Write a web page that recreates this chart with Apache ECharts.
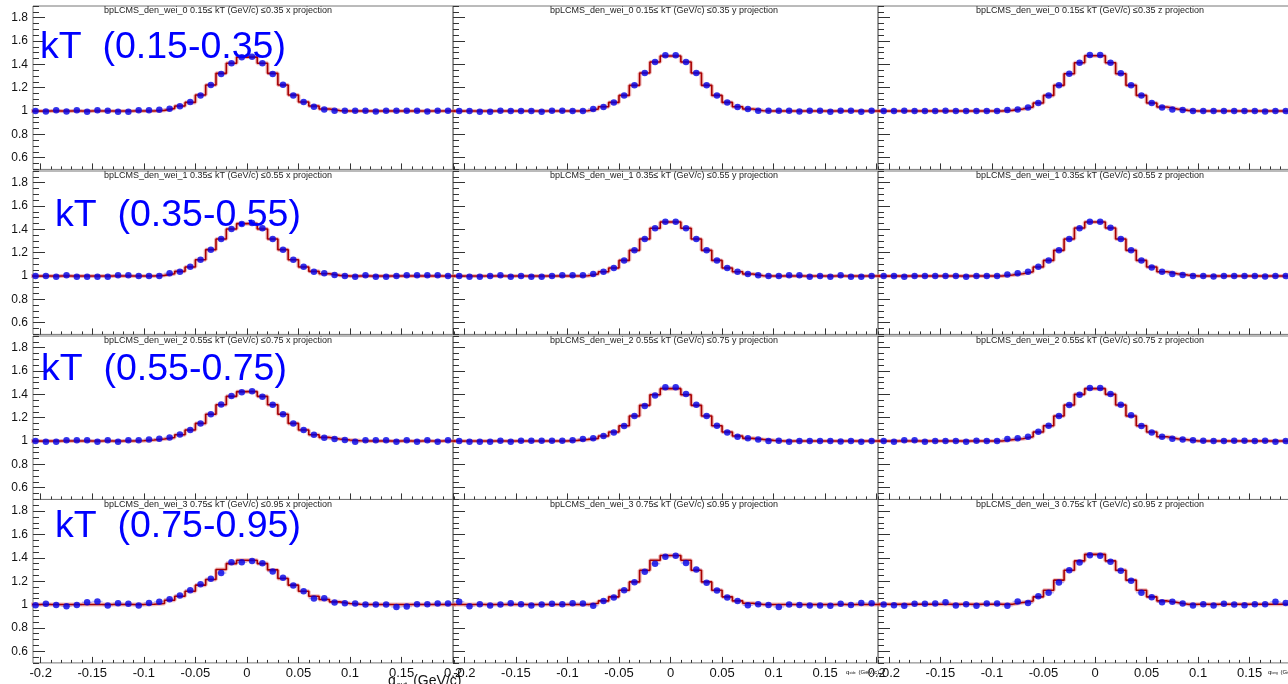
<!DOCTYPE html>
<html>
<head>
<meta charset="utf-8">
<script src="https://cdn.jsdelivr.net/npm/echarts@6/dist/echarts.min.js"></script>
<style>
html, body { margin: 0; padding: 0; background: #fff; }
#main { width: 1288px; height: 684px; }
</style>
</head>
<body>
<div id="main"></div>
<script>
// bin centres of q (GeV/c), bin width 0.01
var qBins = [-0.205,-0.195,-0.185,-0.175,-0.165,-0.155,-0.145,-0.135,-0.125,-0.115,-0.105,-0.095,-0.085,-0.075,-0.065,-0.055,-0.045,-0.035,-0.025,-0.015,-0.005,
             0.005,0.015,0.025,0.035,0.045,0.055,0.065,0.075,0.085,0.095,0.105,0.115,0.125,0.135,0.145,0.155,0.165,0.175,0.185,0.195,0.205];
var kTEdges = ['0.15', '0.35', '0.55', '0.75', '0.95'];
var projections = ['x', 'y', 'z'];
var xTicks = [-0.2, -0.15, -0.1, -0.05, 0, 0.05, 0.1, 0.15, 0.2];
var yTicks = [0.6, 0.8, 1, 1.2, 1.4, 1.6, 1.8];

// kT 0.15-0.35
var data_kt0_x = [1.000,0.997,1.006,0.997,1.006,0.994,1.006,1.003,0.994,0.994,1.006,1.006,
  1.011,1.020,1.040,1.077,1.134,1.223,1.317,1.409,1.460,1.466,1.409,1.317,1.226,1.134,1.077,1.037,1.014,1.003,
  1.003,1.003,1.003,0.997,1.003,1.003,1.003,1.003,0.997,1.003,1.003,1.003];
var fit_kt0_x = [1,1,1,1,1,1,1,1,1,1,1,1,
  1.006,1.023,1.043,1.074,1.137,1.223,1.323,1.409,1.462,1.462,1.409,1.323,1.223,1.137,1.077,1.043,1.017,1.004,
  1,1,1,1,1,1,1,1,1,1,1,1];
var data_kt0_y = [1.000,1.000,0.994,0.994,1.003,1.000,1.000,1.000,0.994,1.003,1.003,1.000,1.000,
  1.017,1.034,1.074,1.134,1.220,1.326,1.420,1.477,1.477,1.420,1.326,1.220,1.134,1.074,1.034,1.017,1.003,
  1.003,1.003,1.003,0.997,1.003,1.003,0.994,1.003,1.003,0.994,1.003,1.003];
var fit_kt0_y = [1,1,1,1,1,1,1,1,1,1,1,1,
  1.003,1.017,1.037,1.074,1.134,1.220,1.326,1.420,1.471,1.471,1.420,1.326,1.220,1.134,1.074,1.037,1.017,1.003,
  1,1,1,1,1,1,1,1,1,1,1,1];
var data_kt0_z = [1.000,1.000,1.003,1.000,1.000,1.000,1.003,1.000,1.000,1.000,1.000,1.000,
  1.009,1.014,1.031,1.069,1.134,1.220,1.320,1.414,1.480,1.480,1.414,1.323,1.220,1.134,1.069,1.031,1.014,1.009,
  1.000,1.000,1.000,1.000,1.000,1.000,1.000,0.997,1.000,1.000,1.000,1.000];
var fit_kt0_z = [1,1,1,1,1,1,1,1,1,1,1,1,
  1.006,1.017,1.034,1.069,1.134,1.220,1.320,1.414,1.474,1.474,1.414,1.320,1.220,1.134,1.069,1.034,1.017,1.006,
  1,1,1,1,1,1,1,1,1,1,1,1];

// kT 0.35-0.55
var data_kt1_x = [1.000,1.000,0.994,1.006,0.994,0.994,0.994,0.994,1.006,1.006,1.000,1.000,1.000,
  1.023,1.037,1.080,1.140,1.226,1.317,1.403,1.446,1.454,1.409,1.317,1.226,1.140,1.080,1.037,1.023,1.009,
  1.000,0.994,1.006,0.994,0.994,1.000,1.006,1.006,1.006,1.006,1.000,1.000];
var fit_kt1_x = [1,1,1,1,1,1,1,1,1,1,1,1,1.006,
  1.020,1.040,1.077,1.140,1.226,1.317,1.403,1.449,1.449,1.403,1.317,1.226,1.140,1.077,1.040,1.020,1.006,
  1,1,1,1,1,1,1,1,1,1,1,1];
var data_kt1_y = [1.000,0.994,0.994,1.000,1.006,0.994,1.000,0.994,0.994,1.000,1.006,1.006,1.006,
  1.017,1.037,1.069,1.134,1.220,1.317,1.409,1.466,1.466,1.409,1.317,1.220,1.134,1.069,1.037,1.017,1.006,
  1.000,1.000,1.006,1.006,0.994,1.000,0.994,1.006,0.994,0.994,1.000,1.000];
var fit_kt1_y = [1,1,1,1,1,1,1,1,1,1,1,1,1.003,
  1.017,1.037,1.069,1.134,1.220,1.317,1.409,1.463,1.463,1.409,1.317,1.220,1.134,1.069,1.037,1.017,1.003,
  1,1,1,1,1,1,1,1,1,1,1,1];
var data_kt1_z = [1.000,1.000,0.994,1.000,1.000,1.000,1.000,1.000,0.994,1.000,1.000,1.000,
  1.014,1.023,1.037,1.080,1.134,1.220,1.317,1.409,1.466,1.466,1.414,1.317,1.220,1.134,1.074,1.037,1.017,1.009,
  1.000,1.000,0.997,1.000,1.000,1.000,1.000,0.997,1.000,1.000,1.000,1.000];
var fit_kt1_z = [1,1,1,1,1,1,1,1,1,1,1,1,
  1.009,1.020,1.037,1.077,1.134,1.220,1.317,1.411,1.463,1.463,1.411,1.317,1.220,1.134,1.077,1.037,1.020,1.009,
  1,1,1,1,1,1,1,1,1,1,1,1];

// kT 0.55-0.75
var data_kt2_x = [1.000,0.994,0.994,1.006,1.006,1.006,0.994,1.006,0.994,1.006,1.006,
  1.014,1.020,1.031,1.057,1.094,1.151,1.229,1.314,1.386,1.417,1.426,1.380,1.311,1.229,1.151,1.094,1.054,1.029,1.017,1.009,
  0.994,1.006,1.006,1.006,0.994,1.006,0.994,1.006,0.994,1.006,1.006];
var fit_kt2_x = [1,1,1,1,1,1,1,1,1,1,
  1.003,1.009,1.017,1.031,1.054,1.094,1.151,1.229,1.311,1.383,1.423,1.423,1.383,1.311,1.229,1.151,1.094,1.054,1.031,1.017,1.009,1.003,
  1,1,1,1,1,1,1,1,1,1];
var data_kt2_y = [1.000,0.994,0.994,0.994,1.003,0.994,1.003,1.003,1.003,1.003,1.003,
  1.006,1.017,1.023,1.043,1.074,1.129,1.214,1.300,1.391,1.460,1.460,1.403,1.311,1.214,1.131,1.074,1.037,1.023,1.014,1.000,
  1.003,0.994,1.000,1.000,1.000,1.000,0.997,1.000,0.994,1.000,1.000];
var fit_kt2_y = [1,1,1,1,1,1,1,1,1,1,1,
  1.006,1.014,1.023,1.043,1.077,1.131,1.214,1.306,1.397,1.449,1.449,1.397,1.306,1.214,1.131,1.077,1.043,1.023,1.014,1.006,
  1,1,1,1,1,1,1,1,1,1,1];
var data_kt2_z = [1.000,0.994,1.006,1.006,0.994,1.000,1.000,1.000,0.994,1.003,1.000,1.000,
  1.017,1.023,1.037,1.080,1.131,1.214,1.309,1.397,1.454,1.454,1.403,1.311,1.220,1.129,1.074,1.037,1.020,1.014,
  1.006,1.003,1.000,1.000,1.003,1.003,1.000,1.003,0.994,1.000,0.994,1.000];
var fit_kt2_z = [1,1,1,1,1,1,1,1,1,1,1,1,
  1.011,1.020,1.037,1.077,1.131,1.214,1.309,1.400,1.449,1.449,1.400,1.309,1.214,1.131,1.077,1.037,1.020,1.011,
  1,1,1,1,1,1,1,1,1,1,1,1];

// kT 0.75-0.95
var data_kt3_x = [0.994,1.006,0.997,0.986,0.997,1.020,1.026,0.991,1.011,1.006,0.991,1.014,
  1.023,1.046,1.077,1.123,1.174,1.220,1.271,1.363,1.363,1.374,1.354,1.283,1.229,1.163,1.114,1.051,1.054,1.017,
  1.011,1.009,1.000,1.000,1.000,0.980,0.983,1.003,1.003,1.009,1.009,1.017];
var fit_kt3_x = [1,1,1,1,1,1,1,1,1,1,1,1.003,
  1.009,1.037,1.071,1.114,1.166,1.214,1.300,1.351,1.380,1.380,1.351,1.297,1.223,1.166,1.114,1.071,1.043,1.023,1.009,
  1.003,1,1,1,1,1,1,1,1,1,1];
var data_kt3_y = [1.023,0.986,1.003,0.991,1.000,1.011,1.003,0.991,1.000,1.006,1.003,1.011,1.009,
  0.989,1.031,1.060,1.123,1.191,1.280,1.349,1.409,1.417,1.357,1.300,1.186,1.120,1.060,1.031,0.994,
  1.003,0.997,0.980,1.000,0.997,0.991,0.991,0.989,1.006,0.997,1.014,1.011,1.000];
var fit_kt3_y = [1,1,1,1,1,1,1,1,1,1,1,1,1,
  1.011,1.031,1.066,1.123,1.194,1.294,1.380,1.420,1.420,1.380,1.294,1.194,1.123,1.066,1.031,1.011,
  1,1,1,1,1,1,1,1,1,1,1,1,1];
var data_kt3_z = [1.000,0.994,0.989,1.006,1.006,1.009,1.020,0.991,1.003,0.989,1.009,1.009,0.989,
  1.026,1.014,1.071,1.100,1.189,1.294,1.360,1.423,1.417,1.366,1.289,1.203,1.100,1.063,1.020,1.023,
  1.009,0.991,1.003,0.991,1.006,1.000,0.994,1.003,1.003,1.023,1.014,1.000,1.000];
var fit_kt3_z = [1.003,1.003,1.003,1.003,1.003,1.003,1.003,1.003,1.003,1.003,1.003,1.003,1.003,
  1.017,1.031,1.066,1.123,1.209,1.294,1.374,1.430,1.430,1.374,1.294,1.209,1.123,1.066,1.031,1.017,
  1.003,1.003,1.003,1.003,1.003,1.003,1.003,1.003,1.003,1.003,1.003,1.003,1.003];

var dots = [
  [data_kt0_x, data_kt0_y, data_kt0_z],
  [data_kt1_x, data_kt1_y, data_kt1_z],
  [data_kt2_x, data_kt2_y, data_kt2_z],
  [data_kt3_x, data_kt3_y, data_kt3_z]
];
var fits = [
  [fit_kt0_x, fit_kt0_y, fit_kt0_z],
  [fit_kt1_x, fit_kt1_y, fit_kt1_z],
  [fit_kt2_x, fit_kt2_y, fit_kt2_z],
  [fit_kt3_x, fit_kt3_y, fit_kt3_z]
];

// pad layout (pixels), pads overlap a little like the ROOT canvas
var rowTop = [6, 171, 336, 499.5];
var rowHeight = 163.4;
var colLeft = [33, 453, 878];
var colMin = [-0.2075, -0.211, -0.2105];
var colMax = [0.2, 0.2013, 0.21];
var pxPerUnit = 1031;
var titleX = [218, 664, 1090];
var bigLabelX = [40, 55, 41, 55];
var bigLabelY = [48, 216, 370, 527];
var FONT = 'Liberation Sans, Arial, Helvetica, sans-serif';

var minorX = [];
for (var t = -21; t <= 21; t++) minorX.push(t / 100);
var minorY = [];
for (var t2 = 10; t2 <= 38; t2++) minorY.push(t2 / 20);

function inRange(arr, lo, hi) {
  return arr.filter(function (v) { return v >= lo - 1e-9 && v <= hi + 1e-9; });
}

var grids = [], xAxes = [], yAxes = [], series = [], graphics = [];
var tickStyle = { color: '#333', width: 1 };

for (var r = 0; r < 4; r++) {
  for (var c = 0; c < 3; c++) {
    var k = grids.length;
    grids.push({
      left: colLeft[c], top: rowTop[r],
      width: (colMax[c] - colMin[c]) * pxPerUnit, height: rowHeight,
      outerBoundsMode: 'none', containLabel: false,
      show: true, borderColor: '#777', borderWidth: 1, backgroundColor: 'rgba(0,0,0,0)'
    });
    // x: minor ticks then major ticks + labels
    xAxes.push({
      type: 'value', gridIndex: k, position: 'bottom', min: colMin[c], max: colMax[c],
      axisLine: { show: false, onZero: false }, splitLine: { show: false },
      axisTick: { inside: true, length: 3, customValues: inRange(minorX, colMin[c], colMax[c]), lineStyle: tickStyle },
      axisLabel: { show: false }
    });
    xAxes.push({
      type: 'value', gridIndex: k, position: 'bottom', min: colMin[c], max: colMax[c],
      axisLine: { show: false, onZero: false }, splitLine: { show: false },
      axisTick: { inside: true, length: 6, customValues: inRange(xTicks, colMin[c], colMax[c]), lineStyle: tickStyle },
      axisLabel: {
        show: r === 3, customValues: inRange(xTicks, colMin[c], colMax[c]),
        fontSize: 13, color: '#111', fontFamily: FONT, margin: 4
      }
    });
    // y: minor ticks then major ticks + labels
    yAxes.push({
      type: 'value', gridIndex: k, position: 'left', min: 0.5, max: 1.9,
      axisLine: { show: false, onZero: false }, splitLine: { show: false },
      axisTick: { inside: true, length: 6, customValues: minorY, lineStyle: tickStyle },
      axisLabel: { show: false }
    });
    yAxes.push({
      type: 'value', gridIndex: k, position: 'left', min: 0.5, max: 1.9,
      axisLine: { show: false, onZero: false }, splitLine: { show: false },
      axisTick: { inside: true, length: 12, customValues: yTicks, lineStyle: tickStyle },
      axisLabel: { show: c === 0, customValues: yTicks, fontSize: 12, color: '#111', fontFamily: FONT, margin: 5 }
    });

    var d = dots[r][c], f = fits[r][c];
    var pts = qBins.map(function (q, i) { return [q, d[i]]; });
    var steps = qBins.map(function (q, i) { return [q - 0.005, f[i]]; });
    steps.push([qBins[qBins.length - 1] + 0.005, f[f.length - 1]]);

    series.push({
      type: 'custom', xAxisIndex: 2 * k, yAxisIndex: 2 * k, clip: true, silent: true, z: 1,
      data: pts,
      renderItem: function (params, api) {
        var x = api.value(0), y = api.value(1);
        var p1 = api.coord([x - 0.005, y]), p2 = api.coord([x + 0.005, y]);
        return { type: 'line', shape: { x1: p1[0], y1: p1[1], x2: p2[0], y2: p2[1] },
                 style: { stroke: 'rgba(110,110,255,0.45)', lineWidth: 1.5 } };
      }
    });
    series.push({
      type: 'line', xAxisIndex: 2 * k, yAxisIndex: 2 * k, step: 'end', data: steps,
      symbol: 'none', silent: true, z: 2,
      lineStyle: { color: 'rgba(225,120,120,0.5)', width: 4 }
    });
    series.push({
      type: 'line', xAxisIndex: 2 * k, yAxisIndex: 2 * k, step: 'end', data: steps,
      symbol: 'none', silent: true, z: 3,
      lineStyle: { color: '#a80000', width: 1.6 }
    });
    series.push({
      type: 'scatter', xAxisIndex: 2 * k, yAxisIndex: 2 * k, data: pts,
      symbol: 'circle', symbolSize: 6.5, silent: true, z: 4,
      itemStyle: { color: '#0000e6' }
    });

    graphics.push({
      type: 'text', x: titleX[c], y: rowTop[r] + 5, z: 10,
      style: {
        text: 'bpLCMS_den_wei_' + r + ' ' + kTEdges[r] + '\u2264 kT (GeV/c) \u2264' + kTEdges[r + 1] + ' ' + projections[c] + ' projection',
        fontSize: 9, fontFamily: FONT, fill: '#222',
        align: 'center', verticalAlign: 'middle', textAlign: 'center', textVerticalAlign: 'middle'
      }
    });
  }
  graphics.push({
    type: 'text', x: bigLabelX[r], y: bigLabelY[r], z: 11,
    style: {
      text: 'kT  (' + kTEdges[r] + '-' + kTEdges[r + 1] + ')',
      fontSize: 37.5, fontFamily: FONT, fill: '#0000ff',
      align: 'left', verticalAlign: 'middle', textAlign: 'left', textVerticalAlign: 'middle'
    }
  });
}

// axis titles (q with subscript)
function axisTitle(x, y, sub, size) {
  var st = { fontFamily: FONT, fill: '#111', align: 'left', verticalAlign: 'top', textAlign: 'left', textVerticalAlign: 'top' };
  graphics.push({ type: 'text', x: x, y: y, z: 10, style: Object.assign({ text: 'q', fontSize: size }, st) });
  graphics.push({ type: 'text', x: x + size * 0.6, y: y + size * 0.5, z: 10, style: Object.assign({ text: sub, fontSize: size * 0.55 }, st) });
  graphics.push({ type: 'text', x: x + size * 0.6 + sub.length * size * 0.3 + size * 0.3, y: y, z: 10, style: Object.assign({ text: '(GeV/c)', fontSize: size }, st) });
}
axisTitle(388, 674, 'out', 14);
axisTitle(846, 669, 'side', 6);
axisTitle(1268, 669, 'long', 6);

var chart = echarts.init(document.getElementById('main'));
chart.setOption({
  animation: false,
  backgroundColor: '#ffffff',
  grid: grids,
  xAxis: xAxes,
  yAxis: yAxes,
  series: series,
  graphic: graphics
});
</script>
</body>
</html>
